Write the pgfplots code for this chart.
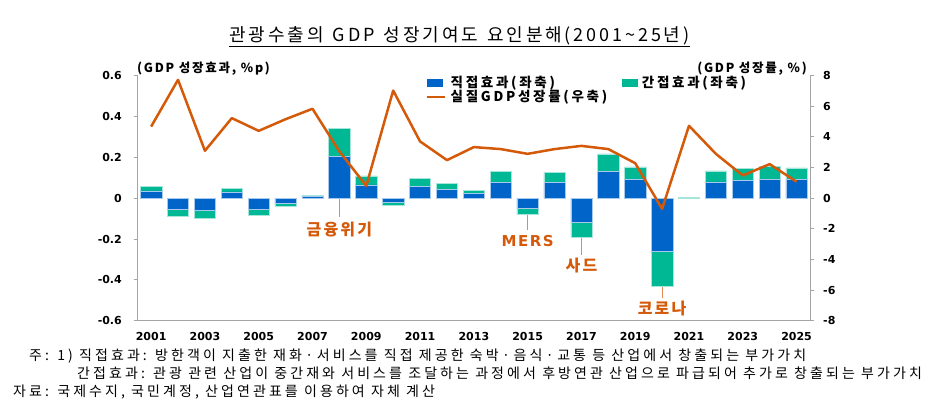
\documentclass[border=0pt]{standalone}
\usepackage{fontspec}
\setmainfont{Noto Sans CJK KR}[LetterSpace=14]
\newfontfamily\notefont{Noto Sans CJK KR}[LetterSpace=22]
\newfontfamily\titlefont{Noto Sans CJK KR}[LetterSpace=16]
\newfontfamily\legfont{Noto Sans CJK KR}[LetterSpace=20]
\newfontfamily\tickfont{DejaVu Sans}
\newfontfamily\mersfont{DejaVu Sans}[LetterSpace=10]
\usepackage{pgfplots}
\usepackage{pgfplotstable}
\pgfplotsset{compat=1.18}

\definecolor{dblue}{RGB}{0,100,200}
\definecolor{igreen}{RGB}{0,184,148}
\definecolor{gdporange}{RGB}{212,90,10}
\definecolor{axgray}{RGB}{165,165,165}

\newcommand{\md}{\hspace{0.25em}·\hspace{0.25em}}

% direct / indirect effect (left axis, %p), real GDP growth (right axis, %)
\pgfplotstableread{
year direct indirect gdp
2001 0.036 0.021 4.67
2002 -0.052 -0.037 7.72
2003 -0.057 -0.041 3.09
2004 0.031 0.018 5.22
2005 -0.052 -0.033 4.39
2006 -0.025 -0.014 5.15
2007 0.008 0.005 5.83
2008 0.206 0.137 3.05
2009 0.065 0.044 0.80
2010 -0.021 -0.015 7.02
2011 0.059 0.037 3.70
2012 0.042 0.029 2.48
2013 0.023 0.016 3.33
2014 0.078 0.052 3.20
2015 -0.049 -0.029 2.89
2016 0.077 0.049 3.20
2017 -0.116 -0.073 3.41
2018 0.130 0.087 3.20
2019 0.091 0.062 2.28
2020 -0.259 -0.170 -0.70
2021 0.000 0.002 4.72
2022 0.080 0.054 2.89
2023 0.086 0.059 1.48
2024 0.093 0.064 2.22
2025 0.090 0.058 1.07
}\data

\pgfplotsset{
  common/.style={
    at={(137.7pt,94.2pt)}, anchor=south west,
    scale only axis, width=672.3pt, height=245.3pt,
    xmin=2000.5, xmax=2025.5,
    axis line style={draw=axgray, line width=0.9pt},
    tick align=outside, major tick length=4pt,
    ticklabel style={font=\tickfont\bfseries\fontsize{11}{12}\selectfont},
  },
}

\begin{document}
\begin{tikzpicture}[x=1pt,y=1pt]
\useasboundingbox (0,0) rectangle (945,415);

% title
\node[anchor=base, inner sep=0pt, font=\titlefont\fontsize{18}{20}\selectfont] (t) at (459.5,373.5)
  {관광수출의\hspace{0.5em}GDP\hspace{0.5em}성장기여도\hspace{0.5em}요인분해(2001\textasciitilde25년)};
\draw[line width=0.9pt] ([yshift=-4.5pt]t.base west) -- ([yshift=-4.5pt]t.base east);

\begin{axis}[
  common,
  ymin=-0.6, ymax=0.6,
  ybar stacked, bar width=21.3pt,
  axis x line*=bottom, axis y line*=left,
  xtick={2001,2003,2005,2007,2009,2011,2013,2015,2017,2019,2021,2023,2025},
  xticklabels={2001,2003,2005,2007,2009,2011,2013,2015,2017,2019,2021,2023,2025},
  x tick style={draw=none},
  xticklabel style={inner sep=0pt, anchor=north, yshift=-7.7pt},
  ytick={-0.6,-0.4,-0.2,0,0.2,0.4,0.6},
  yticklabels={-0.6,-0.4,-0.2,0,0.2,0.4,0.6},
  y tick style={draw=axgray, line width=0.9pt},
  yticklabel style={inner sep=0pt, anchor=east, xshift=-11.7pt},
  legend columns=2,
  legend cell align=left,
  legend style={at={(0.428,1.0)}, anchor=north west, draw=none, fill=none,
    inner sep=0pt, row sep=0pt,
    font=\legfont\bfseries\fontsize{13.5}{13.5}\selectfont,
    nodes={inner sep=0.6pt},
    /tikz/every odd column/.append style={column sep=4pt},
    /tikz/every even column/.append style={column sep=14pt}},
]
\addplot[fill=dblue, draw=dblue!35!white, line width=0.5pt,
  legend image code/.code={\fill[dblue] (0pt,-3.5pt) rectangle (15pt,3.5pt);}]
  table[x=year, y=direct] {\data};
\addplot[fill=igreen, draw=igreen!35!white, line width=0.5pt,
  legend image code/.code={\fill[igreen] (0pt,-3.5pt) rectangle (15pt,3.5pt);}]
  table[x=year, y=indirect] {\data};
\addlegendimage{legend image code/.code={\draw[gdporange, line width=2.5pt] (0pt,0pt) -- (18pt,0pt);}}
\legend{직접효과(좌축), 간접효과(좌축), 실질GDP성장률(우축)}

% event annotations
\draw[gdporange!70, line width=0.8pt] (axis cs:2008,0) -- (axis cs:2008,-0.09);
\node[text=gdporange, font=\bfseries\fontsize{16}{16}\selectfont] at (axis cs:2008,-0.155) {금융위기};
\draw[gdporange!70, line width=0.8pt] (axis cs:2015,-0.078) -- (axis cs:2015,-0.155);
\node[text=gdporange, font=\mersfont\bfseries\fontsize{15}{15}\selectfont] at (axis cs:2015,-0.212) {MERS};
\draw[gdporange!70, line width=0.8pt] (axis cs:2017,-0.189) -- (axis cs:2017,-0.278);
\node[text=gdporange, font=\bfseries\fontsize{16}{16}\selectfont] at (axis cs:2017,-0.331) {사드};
\draw[gdporange!70, line width=0.8pt] (axis cs:2020,-0.429) -- (axis cs:2020,-0.488);
\node[text=gdporange, font=\bfseries\fontsize{16}{16}\selectfont] at (axis cs:2020,-0.541) {코로나};
\end{axis}

\begin{axis}[
  common,
  ymin=-8, ymax=8,
  axis x line=none, axis y line*=right,
  ytick={-8,-6,-4,-2,0,2,4,6,8},
  yticklabels={-8,-6,-4,-2,0,2,4,6,8},
  y tick style={draw=axgray, line width=0.9pt},
  yticklabel style={inner sep=0pt, anchor=west, xshift=9pt},
]
\addplot[gdporange, line width=2.5pt, mark=none, line join=round]
  table[x=year, y=gdp] {\data};
\end{axis}

% axis unit labels
\node[anchor=west, inner sep=0pt, font=\bfseries\fontsize{12.5}{12.5}\selectfont] at (137,346) {(GDP 성장효과, \%p)};
\node[anchor=east, inner sep=0pt, font=\bfseries\fontsize{12.5}{12.5}\selectfont] at (807,346) {(GDP 성장률, \%)};

% notes
\begin{scope}[every node/.style={anchor=base west, inner sep=0pt, font=\notefont\fontsize{14}{15}\selectfont}]
\node at (29,54) {주: 1) 직접효과: 방한객이 지출한 재화\md 서비스를 직접 제공한 숙박\md 음식\md 교통 등 산업에서 창출되는 부가가치};
\node at (77,37) {간접효과: 관광 관련 산업이 중간재와 서비스를 조달하는 과정에서 후방연관 산업으로 파급되어 추가로 창출되는 부가가치};
\node at (13,19) {자료: 국제수지, 국민계정, 산업연관표를 이용하여 자체 계산};
\end{scope}
\end{tikzpicture}
\end{document}
